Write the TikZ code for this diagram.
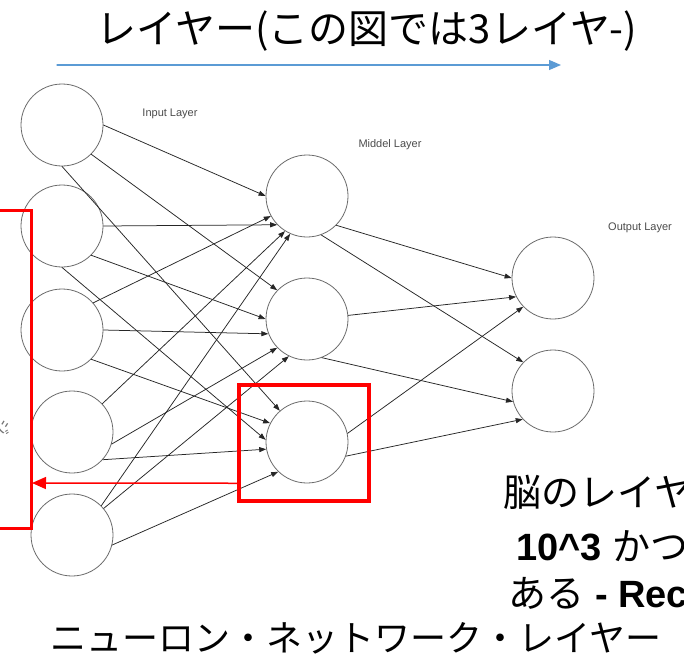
\documentclass[tikz,border=0pt]{standalone}
\usepackage{fontspec}
\setmainfont{Liberation Sans}
\newfontfamily\jp{Noto Sans CJK JP}
\usetikzlibrary{arrows.meta}
\definecolor{lineblue}{HTML}{5B9BD5}

\begin{document}
\begin{tikzpicture}[x=1pt,y=-1pt,>={Triangle[length=7pt,width=5pt]},line cap=round,
  neuron/.style={circle,draw=gray!85!black,line width=0.8pt,minimum size=82pt,inner sep=0pt},
  link/.style={->,black!85,line width=0.75pt},
  layername/.style={font=\fontsize{11}{11}\selectfont,text=black!70}]
\path[use as bounding box,fill=white] (0,0) rectangle (684,664);

\node[font=\jp\fontsize{40}{40}\selectfont] (title) at (367,31) {レイヤー(この図では3レイヤ-)};
\coordinate (flowstart) at (57,65);
\coordinate (flowend) at (561,65);
\draw[lineblue,line width=1.2pt,-{Triangle[length=12pt,width=10pt]}] (flowstart) -- (flowend);

\node[neuron] (in1) at (62,125) {};
\node[neuron] (in2) at (62,226) {};
\node[neuron] (in3) at (62,330) {};
\node[neuron] (in4) at (72,432) {};
\node[neuron] (in5) at (72,535) {};
\node[neuron] (mid1) at (307,196) {};
\node[neuron] (mid2) at (307,319) {};
\node[neuron] (mid3) at (307,442) {};
\node[neuron] (out1) at (553,278) {};
\node[neuron] (out2) at (553,391) {};

\node[layername] (inname) at (170,114) {Input Layer};
\node[layername] (midname) at (390,145) {Middel Layer};
\node[layername] (outname) at (640,228) {Output Layer};

\draw[link] (in1.0) -- (mid1.180);
\draw[link] (in1.-45) -- (mid2.136);
\draw[link] (in1.-90) -- (mid3.131);
\draw[link] (in2.0) -- (mid1.224);
\draw[link] (in2.-45) -- (mid2.180);
\draw[link] (in2.-90) -- (mid3.177);
\draw[link] (in3.41) -- (mid1.209);
\draw[link] (in3.0) -- (mid2.201);
\draw[link] (in3.-45) -- (mid3.153);
\draw[link] (in4.43) -- (mid1.238);
\draw[link] (in4.-17) -- (mid2.224);
\draw[link] (in4.-42) -- (mid3.190);
\draw[link] (in5.45) -- (mid1.246);
\draw[link] (in5.40) -- (mid2.244);
\draw[link] (in5.-14) -- (mid3.226);

\draw[link] (mid1.-45) -- (out1.180);
\draw[link] (mid1.-70) -- (out2.136);
\draw[link] (mid2.5) -- (out1.207);
\draw[link] (mid2.-69) -- (out2.195);
\draw[link] (mid3.12) -- (out1.224);
\draw[link] (mid3.-20) -- (out2.223);

\node[draw=red,line width=4.5pt,minimum width=130pt,minimum height=116pt,inner sep=0pt] (focus) at (304,443) {};
\draw[red,line width=3pt,line cap=butt] (0,210) -| (31,528) -- (0,528);
\coordinate (brk) at (32,483);
\draw[red,line width=1.5pt,-{Triangle[length=14pt,width=12pt]}] ([yshift=20pt]focus.south west) -- (brk);
\node[rotate=-90,text=black!55,font=\jp\fontsize{16}{16}\selectfont] (side) at (3,427) {ジ};

\node[anchor=base west,font=\jp\fontsize{38}{38}\selectfont] (brain1) at (500,506) {脳のレイヤ};
\node[anchor=base west,font=\fontsize{38}{38}\selectfont] (brain2) at (513,560) {\textbf{10\textasciicircum 3} {\jp かつ}};
\node[anchor=base west,font=\fontsize{38}{38}\selectfont] (brain3) at (505,607) {{\jp ある} \textbf{- Rec}};

\node[font=\jp\fontsize{36}{36}\selectfont] (bottom) at (356,638) {ニューロン・ネットワーク・レイヤー};
\end{tikzpicture}
\end{document}
